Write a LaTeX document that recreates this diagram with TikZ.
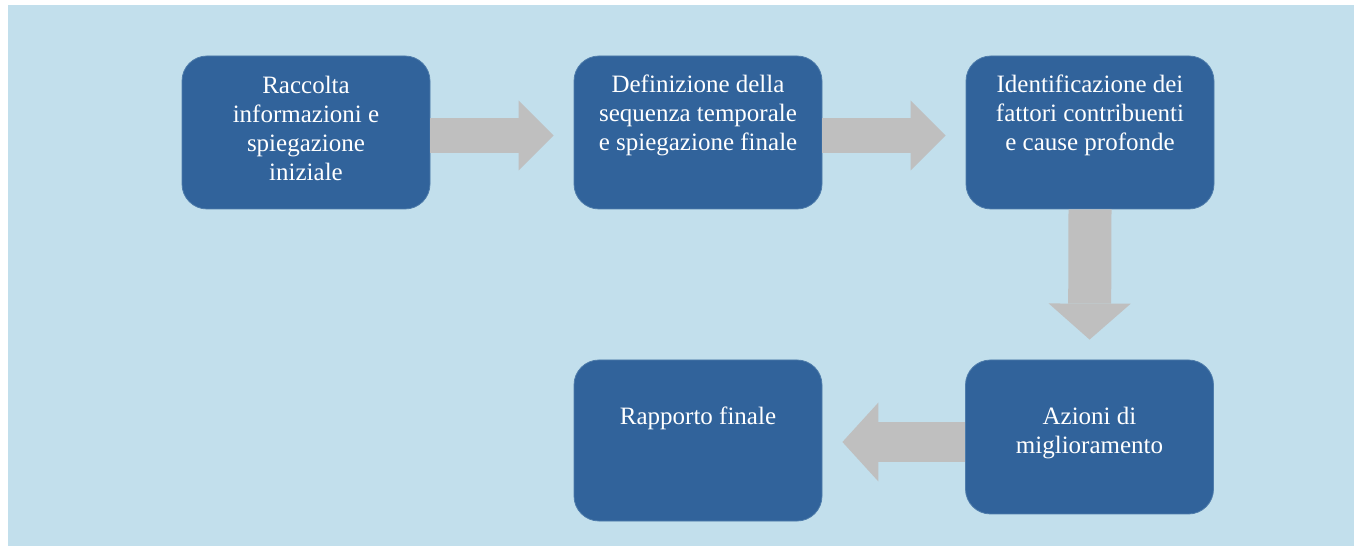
\documentclass[tikz,border=0pt]{standalone}
\usepackage{fontspec}
\setmainfont{Liberation Serif}
\usepackage{xcolor}
\usetikzlibrary{arrows.meta}
\definecolor{BoxBlue}{HTML}{31639B}
\definecolor{BgBlue}{HTML}{C2DFEC}
\definecolor{ArrowGrey}{HTML}{BFBFBF}

\begin{document}
\begin{tikzpicture}[x=1pt,y=1pt,
  box/.style={fill=BoxBlue,draw=BoxBlue!80!BgBlue,line width=0.8pt,
    rounded corners=25pt,minimum width=248pt,minimum height=153pt,inner sep=0pt},
  boxtext/.style={anchor=base,align=center,text=white,
    font=\fontsize{25}{29}\selectfont},
  flow/.style n args={3}{draw=ArrowGrey,line width=#1,
    -{Triangle[width=#2,length=#3,line width=0pt]},shorten >=20pt}]
  \useasboundingbox (0,0) rectangle (1354,546);
  \fill[BgBlue] (8,0) rectangle (1354,541);

  % Raccolta
  \node[box] (raccolta) at (306,413.5) {};
  \node[boxtext] (raccolta-txt) at (306,365)
    {Raccolta\\informazioni e\\spiegazione\\iniziale};

  % Sequenza temporale
  \node[box] (sequenza) at (698,413.5) {};
  \node[boxtext] (sequenza-txt) at (698,395)
    {Definizione della\\sequenza temporale\\e spiegazione finale};

  % Fattori e cause
  \node[box] (cause) at (1090,413.5) {};
  \node[boxtext] (cause-txt) at (1090,395)
    {Identificazione dei\\fattori contribuenti\\e cause profonde};

  % Azioni
  \node[box,minimum height=154pt] (azioni) at (1089.5,109) {};
  \node[boxtext] (azioni-txt) at (1089.5,92)
    {Azioni di\\miglioramento};

  % Rapporto
  \node[box,minimum height=161pt] (rapporto) at (698,105.5) {};
  \node[boxtext] (rapporto-txt) at (698,121) {Rapporto finale};

  % Frecce
  \draw[flow={35pt}{70pt}{35pt}]
    ([yshift=-3pt]raccolta.east) -- ([yshift=-3pt]sequenza.west);
  \draw[flow={35pt}{70pt}{35pt}]
    ([yshift=-3pt]sequenza.east) -- ([yshift=-3pt]cause.west);
  \draw[flow={43pt}{82pt}{36pt}] (cause.south) -- (azioni.north);
  \draw[flow={40pt}{79pt}{36pt}]
    ([yshift=-5pt]azioni.west) -- ([yshift=-5pt]azioni.west -| rapporto.east);
\end{tikzpicture}
\end{document}
